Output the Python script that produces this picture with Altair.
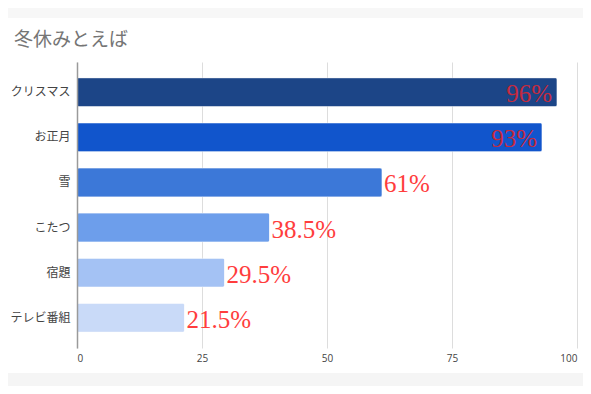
import altair as alt
import pandas as pd

categories = ["クリスマス", "お正月", "雪", "こたつ", "宿題", "テレビ番組"]
values = [96, 93, 61, 38.5, 29.5, 21.5]
labels = ["96%", "93%", "61%", "38.5%", "29.5%", "21.5%"]
bar_colors = ["#1c4587", "#1155cc", "#3c78d8", "#6d9eeb", "#a4c2f4", "#c9daf8"]
inside = [True, True, False, False, False, False]
x_ticks = [0, 25, 50, 75, 100]
title_text = "冬休みとえば"

df = pd.DataFrame({"cat": categories, "val": values, "label": labels, "inside": inside})
one = pd.DataFrame({"k": [0]})

JP = "Noto Sans CJK JP"

y = alt.Y(
    "cat:N",
    sort=categories,
    scale=alt.Scale(paddingInner=0.36, paddingOuter=0.35),
    axis=alt.Axis(
        title=None, ticks=False, labelFont=JP, labelFontSize=12,
        labelColor="#444444", labelPadding=7, domainColor="#9a9a9a",
        domainWidth=1.5, grid=False, zindex=1,
    ),
)
x = alt.X(
    "val:Q",
    scale=alt.Scale(domain=[0, 100], nice=False),
    axis=alt.Axis(
        title=None, values=x_ticks, ticks=False, domain=False, grid=True,
        gridColor="#dddddd", labelFontSize=10, labelColor="#444444",
        labelPadding=5, labelFont="Open Sans",
    ),
)

bars = alt.Chart(df).mark_bar(cornerRadius=2, stroke="white", strokeOpacity=0.35, strokeWidth=1).encode(
    y=y,
    x=x,
    color=alt.Color("cat:N", scale=alt.Scale(domain=categories, range=bar_colors), legend=None),
)

txt_out = alt.Chart(df).transform_filter("!datum.inside").mark_text(
    align="left", baseline="middle", dx=2, dy=2, fontSize=25,
    font="Liberation Serif", color="#ff3d3d",
).encode(y=alt.Y("cat:N", sort=categories), x="val:Q", text="label:N")

txt_in = alt.Chart(df).transform_filter("datum.inside").mark_text(
    align="right", baseline="middle", dx=-5, dy=2, fontSize=25,
    font="Liberation Serif", color="#c62a3e",
).encode(y=alt.Y("cat:N", sort=categories), x="val:Q", text="label:N")

strip_top = alt.Chart(one).mark_rect(color="#f7f7f7").encode(
    x=alt.value(-69), x2=alt.value(506), y=alt.value(-54), y2=alt.value(-44)
)
strip_bot = alt.Chart(one).mark_rect(color="#f5f5f5").encode(
    x=alt.value(-69), x2=alt.value(506), y=alt.value(311), y2=alt.value(324)
)

title_mark = alt.Chart(one).mark_text(
    align="left", baseline="top", fontSize=19, font=JP, color="#757575",
).encode(x=alt.value(-63), y=alt.value(-31), text=alt.value(title_text))

chart = alt.layer(strip_top, strip_bot, bars, txt_out, txt_in, title_mark).properties(
    width=500,
    height=286,
    autosize=alt.AutoSizeParams(type="none"),
    padding={"left": 69, "top": 54, "right": 6, "bottom": 38},
    background="white",
).configure_view(stroke=None)

chart.save("out.html", embed_options={"renderer": "svg", "actions": False})
